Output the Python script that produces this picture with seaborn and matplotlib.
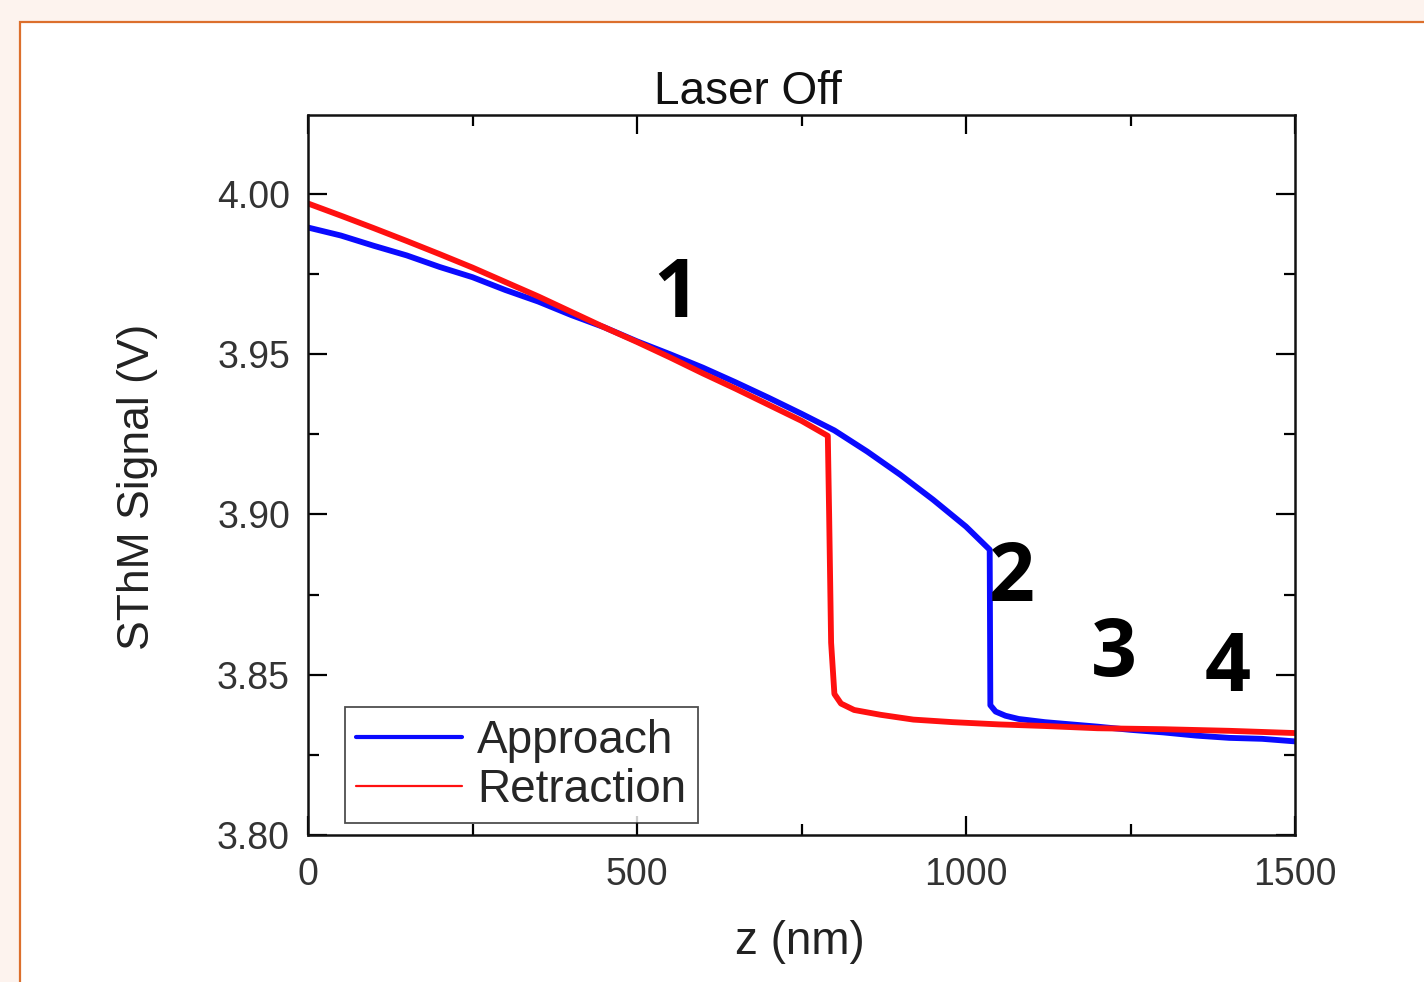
"""Laser Off: SThM signal vs z, approach and retraction curves."""

import matplotlib

matplotlib.use("Agg")
import matplotlib.pyplot as plt
import pandas as pd
import seaborn as sns
from matplotlib.patches import Rectangle
from matplotlib.ticker import FormatStrFormatter, MultipleLocator


# Values.
approach_z = [
    0, 50, 100, 150, 200, 250, 300, 350, 400, 450, 500, 550, 600, 650, 700,
    750, 800, 850, 900, 950, 1000, 1036, 1037, 1045, 1060, 1080, 1120, 1160,
    1200, 1250, 1300, 1350, 1400, 1450, 1500,
]
approach_signal = [
    3.9895, 3.9870, 3.9838, 3.9808, 3.9772, 3.9740, 3.9700, 3.9664, 3.9622,
    3.9584, 3.9540, 3.9500, 3.9458, 3.9412, 3.9364, 3.9314, 3.9262, 3.9196,
    3.9124, 3.9046, 3.8962, 3.8890, 3.8405, 3.8385, 3.8372, 3.8362, 3.8352,
    3.8345, 3.8338, 3.8328, 3.8320, 3.8310, 3.8303, 3.8300, 3.8292,
]
retraction_z = [
    0, 50, 100, 150, 200, 250, 300, 350, 400, 450, 500, 550, 600, 650, 700,
    750, 790, 792, 795, 800, 810, 830, 870, 920, 980, 1050, 1120, 1200, 1300,
    1400, 1500,
]
retraction_signal = [
    3.9970, 3.9932, 3.9893, 3.9853, 3.9812, 3.9770, 3.9725, 3.9680, 3.9632,
    3.9584, 3.9538, 3.9490, 3.9440, 3.9392, 3.9342, 3.9292, 3.9245, 3.9000,
    3.8600, 3.8440, 3.8410, 3.8390, 3.8375, 3.8360, 3.8352, 3.8345, 3.8340,
    3.8333, 3.8330, 3.8325, 3.8318,
]
curve_names = ["Approach", "Retraction"]
curve_colors = ["#0a0aff", "#ff1010"]

region_labels = ["1", "2", "3", "4"]
region_z = [559, 1070, 1224, 1398]
region_signal = [3.9682, 3.8795, 3.8560, 3.8515]


def build_frame() -> pd.DataFrame:
    approach = pd.DataFrame(
        {"z": approach_z, "signal": approach_signal, "curve": curve_names[0]}
    )
    retraction = pd.DataFrame(
        {"z": retraction_z, "signal": retraction_signal, "curve": curve_names[1]}
    )
    return pd.concat([approach, retraction], ignore_index=True)


def main() -> None:
    sns.set_theme(style="ticks")
    plt.rcParams["font.family"] = ["Liberation Sans", "DejaVu Sans"]

    frame = build_frame()
    fig = plt.figure(figsize=(14.24, 9.82), dpi=100, facecolor="#fdf3ee")
    # White panel with an orange edge, as in the source slide.
    panel = Rectangle(
        (20 / 1424, -0.05), 1.05, 1 - 22 / 982 + 0.05,
        transform=fig.transFigure, facecolor="white",
        edgecolor="#dc6f2c", linewidth=1.6, zorder=-10,
    )
    fig.add_artist(panel)
    axis = fig.add_axes([308 / 1424, 1 - 835 / 982, 987 / 1424, 720 / 982])
    axis.set_facecolor("white")

    sns.lineplot(
        data=frame, x="z", y="signal", hue="curve", hue_order=curve_names,
        palette=dict(zip(curve_names, curve_colors)), sort=False,
        estimator=None, linewidth=4.2, ax=axis,
    )

    for label, z, signal in zip(region_labels, region_z, region_signal):
        axis.text(
            z, signal, label, ha="center", va="center", fontsize=58,
            fontweight="bold", family=["Open Sans", "DejaVu Sans"],
            color="black",
        )

    axis.set_xlim(0, 1500)
    axis.set_ylim(3.80, 4.0246)
    axis.xaxis.set_major_locator(MultipleLocator(500))
    axis.xaxis.set_minor_locator(MultipleLocator(250))
    axis.set_yticks([3.80, 3.85, 3.90, 3.95, 4.00])
    axis.yaxis.set_minor_locator(MultipleLocator(0.025))
    axis.yaxis.set_major_formatter(FormatStrFormatter("%.2f"))
    axis.tick_params(
        which="both", direction="in", top=True, right=True,
        labelsize=27, labelcolor="#333333", width=1.6, color="black",
    )
    axis.tick_params(axis="x", which="major", length=14, pad=16)
    axis.tick_params(axis="y", which="major", length=14, pad=13)
    axis.tick_params(which="minor", length=8)
    for spine in axis.spines.values():
        spine.set_linewidth(1.8)
        spine.set_color("#111111")

    axis.set_title("Laser Off", fontsize=33, pad=8, color="#111111", x=0.446)
    axis.set_xlabel("z (nm)", fontsize=33, color="#222222")
    axis.set_ylabel("SThM Signal (V)", fontsize=32, color="#222222")
    axis.xaxis.set_label_coords(0.498, -0.118)
    axis.yaxis.set_label_coords(-0.152, 0.483)

    legend = axis.legend(
        loc="lower left", bbox_to_anchor=(0.037, 0.016), fontsize=33,
        frameon=True, fancybox=False, edgecolor="#222222",
        handlelength=2.3, handletextpad=0.33, borderpad=0.26,
        labelspacing=0.1, borderaxespad=0,
    )
    legend.get_frame().set_linewidth(1.3)
    for handle, width in zip(legend.get_lines(), [3.0, 1.6]):
        handle.set_linewidth(width)

    fig.savefig("out.png", dpi=100, facecolor=fig.get_facecolor())
    plt.close(fig)


if __name__ == "__main__":
    main()
